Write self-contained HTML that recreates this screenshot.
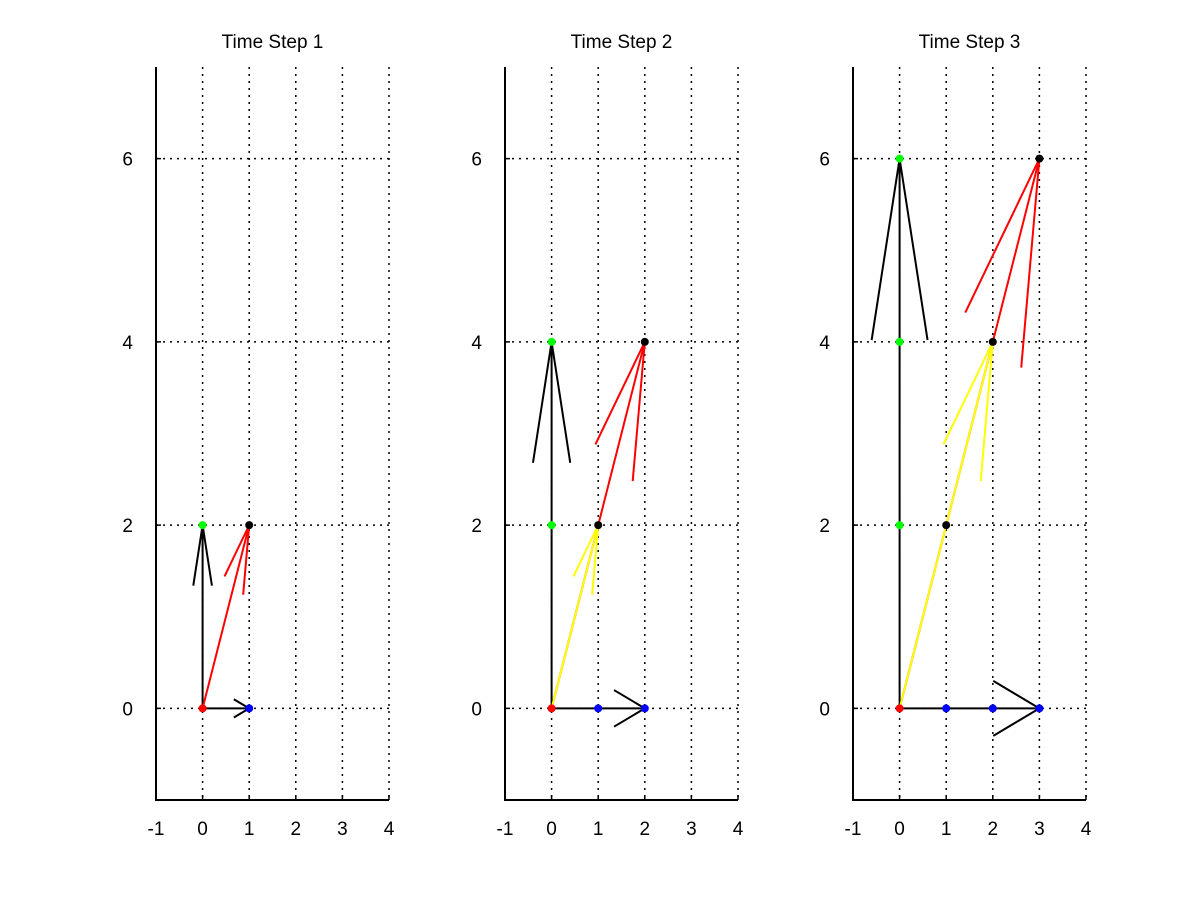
<!DOCTYPE html>
<html><head><meta charset="utf-8"><style>
body{margin:0;background:#fff}
svg{display:block;font-family:"Liberation Sans",sans-serif}
</style></head><body>
<svg id="chart" width="1200" height="902" viewBox="0 0 1200 902"></svg>
<script>
const axLefts=[156,505,853];
const titles=["Time Step 1","Time Step 2","Time Step 3"];
const xTicks=[-1,0,1,2,3,4];
const yTicks=[0,2,4,6];
const redPts=[[[0,0]],[[0,0]],[[0,0]]];
const bluePts=[[[1,0]],[[1,0],[2,0]],[[1,0],[2,0],[3,0]]];
const greenPts=[[[0,2]],[[0,2],[0,4]],[[0,2],[0,4],[0,6]]];
const blackPts=[[[1,2]],[[1,2],[2,4]],[[1,2],[2,4],[3,6]]];
// arrows: [x0,y0,u,v,color]
const arrows=[
 [[0,0,0,2,"#000"],[0,0,1,0,"#000"],[0,0,1,2,"#f00"]],
 [[0,0,0,4,"#000"],[0,0,2,0,"#000"],[0,0,2,4,"#f00"],[0,0,1,2,"#ff0"]],
 [[0,0,0,6,"#000"],[0,0,3,0,"#000"],[0,0,3,6,"#f00"],[0,0,2,4,"#ff0"]]
];
const NS="http://www.w3.org/2000/svg";
const svg=document.getElementById('chart');
const W=233,top0=67,bot0=800;
function mk(t,a,p){const e=document.createElementNS(NS,t);for(const k in a)e.setAttribute(k,a[k]);(p||svg).appendChild(e);return e;}
for(let i=0;i<3;i++){
 const L=axLefts[i];
 const sx=x=>L+(x+1)*W/5, sy=y=>bot0-(y+1)*(bot0-top0)/8;
 const g=mk('g',{});
 
 
 const t=mk('text',{x:sx(1.5),y:48,'text-anchor':'middle','font-size':19},g);
 t.textContent=titles[i];
 
 
 xTicks.forEach(v=>{
  const l=mk('line',{x1:sx(v),x2:sx(v),y1:top0,y2:bot0,stroke:'#000','stroke-width':1.5,'stroke-dasharray':'2,5'},g);
  
  
  mk('line',{x1:sx(v),x2:sx(v),y1:bot0,y2:bot0-5,stroke:'#000','stroke-width':1.5},g);
  const tx=mk('text',{x:sx(v),y:835,'text-anchor':'middle','font-size':19},g);
  tx.textContent=v;
  
  
 });
 yTicks.forEach(v=>{
  const l=mk('line',{x1:L,x2:L+W,y1:sy(v),y2:sy(v),stroke:'#000','stroke-width':1.5,'stroke-dasharray':'2,5'},g);
  
  
  mk('line',{x1:L,x2:L+5,y1:sy(v),y2:sy(v),stroke:'#000','stroke-width':1.5},g);
  const ty=mk('text',{x:L-23,y:sy(v)+7,'text-anchor':'end','font-size':19},g);
  ty.textContent=v;
  
  
 });
 const ax=mk('polyline',{points:`${L},${top0} ${L},${bot0} ${L+W},${bot0}`,fill:'none',stroke:'#000','stroke-width':2},g);
 
 
 arrows[i].forEach(a=>{
  const [x0,y0,u,v,c]=a;
  const x1=x0+u,y1=y0+v;
  const bx=x1-0.33*u,by=y1-0.33*v;
  const px=-0.1*v,py=0.1*u;
  const ar=mk('g',{stroke:c,'stroke-width':2,fill:'none'},g);
  
  
  mk('line',{x1:sx(x0),y1:sy(y0),x2:sx(x1),y2:sy(y1)},ar);
  mk('polyline',{points:`${sx(bx+px)},${sy(by+py)} ${sx(x1)},${sy(y1)} ${sx(bx-px)},${sy(by-py)}`},ar);
 });
 [[redPts,'#f00','red-point'],[bluePts,'#00f','blue-point'],[greenPts,'#0f0','green-point'],[blackPts,'#000','black-point']].forEach(([arr,c,n])=>{
  arr[i].forEach(p=>{
   const d=mk('circle',{cx:sx(p[0]),cy:sy(p[1]),r:4,fill:c},g);
   
   
  });
 });
}
</script>
</body></html>
